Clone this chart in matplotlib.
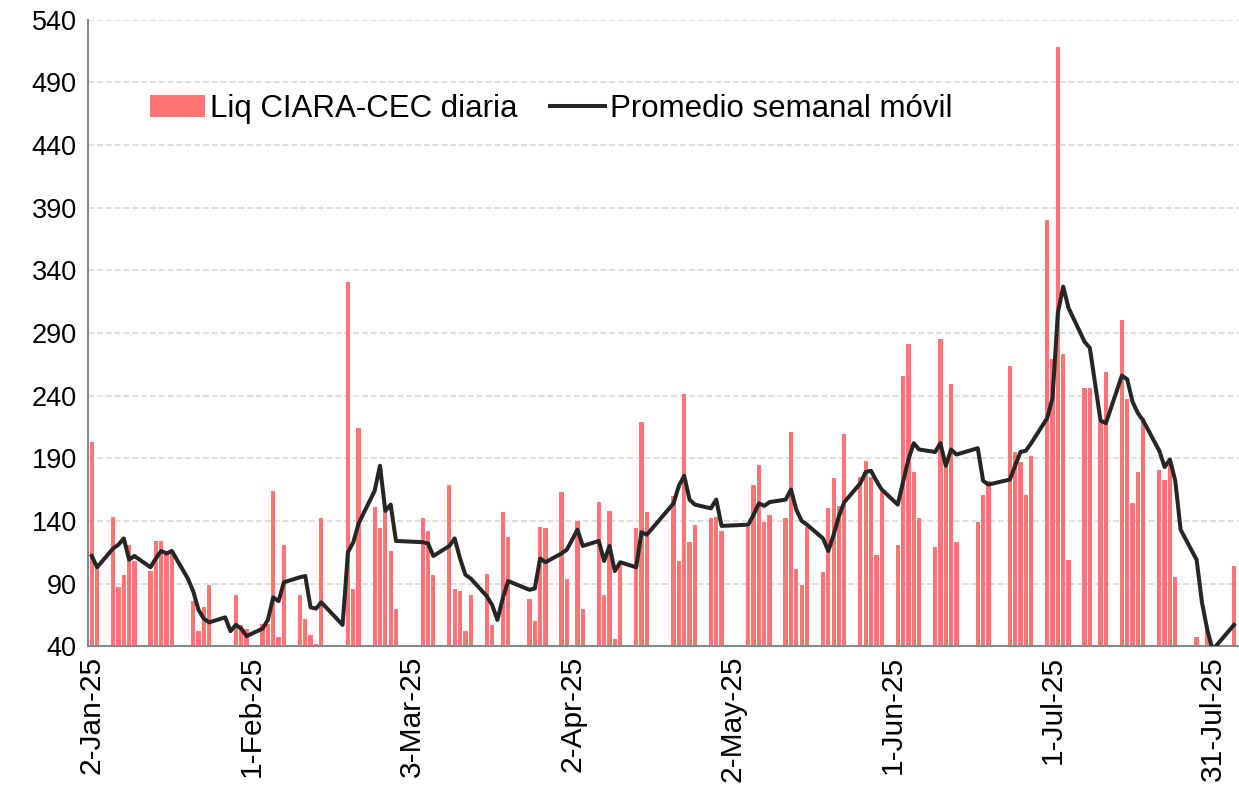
import numpy as np
import pandas as pd
import matplotlib
matplotlib.use('Agg')
import matplotlib.pyplot as plt

plt.rcParams['font.family'] = ['Liberation Sans', 'DejaVu Sans']

# Fechas con dato (días hábiles)
fechas = [
    '2025-01-02', '2025-01-03', '2025-01-06', '2025-01-07', '2025-01-08', '2025-01-09', '2025-01-10',
    '2025-01-13', '2025-01-14', '2025-01-15', '2025-01-16', '2025-01-17', '2025-01-20', '2025-01-21',
    '2025-01-22', '2025-01-23', '2025-01-24', '2025-01-27', '2025-01-28', '2025-01-29', '2025-01-30',
    '2025-01-31', '2025-02-03', '2025-02-04', '2025-02-05', '2025-02-06', '2025-02-07', '2025-02-10',
    '2025-02-11', '2025-02-12', '2025-02-13', '2025-02-14', '2025-02-18', '2025-02-19', '2025-02-20',
    '2025-02-21', '2025-02-24', '2025-02-25', '2025-02-26', '2025-02-27', '2025-02-28', '2025-03-05',
    '2025-03-06', '2025-03-07', '2025-03-10', '2025-03-11', '2025-03-12', '2025-03-13', '2025-03-14',
    '2025-03-17', '2025-03-18', '2025-03-19', '2025-03-20', '2025-03-21', '2025-03-25', '2025-03-26',
    '2025-03-27', '2025-03-28', '2025-03-31', '2025-04-01', '2025-04-03', '2025-04-04', '2025-04-07',
    '2025-04-08', '2025-04-09', '2025-04-10', '2025-04-11', '2025-04-14', '2025-04-15', '2025-04-16',
    '2025-04-21', '2025-04-22', '2025-04-23', '2025-04-24', '2025-04-25', '2025-04-28', '2025-04-29',
    '2025-04-30', '2025-05-05', '2025-05-06', '2025-05-07', '2025-05-08', '2025-05-09', '2025-05-12',
    '2025-05-13', '2025-05-14', '2025-05-15', '2025-05-16', '2025-05-19', '2025-05-20', '2025-05-21',
    '2025-05-22', '2025-05-23', '2025-05-26', '2025-05-27', '2025-05-28', '2025-05-29', '2025-05-30',
    '2025-06-02', '2025-06-03', '2025-06-04', '2025-06-05', '2025-06-06', '2025-06-09', '2025-06-10',
    '2025-06-11', '2025-06-12', '2025-06-13', '2025-06-17', '2025-06-18', '2025-06-19', '2025-06-23',
    '2025-06-24', '2025-06-25', '2025-06-26', '2025-06-27', '2025-06-30', '2025-07-01', '2025-07-02',
    '2025-07-03', '2025-07-04', '2025-07-07', '2025-07-08', '2025-07-10', '2025-07-11', '2025-07-14',
    '2025-07-15', '2025-07-16', '2025-07-17', '2025-07-18', '2025-07-21', '2025-07-22', '2025-07-23',
    '2025-07-24', '2025-07-25', '2025-07-28', '2025-07-29', '2025-07-30', '2025-07-31', '2025-08-04',
]

# Liquidación diaria (millones USD)
liq_diaria = [
    203, 105, 143, 87, 97, 121, 108,
    100, 124, 124, 114, 116, 30, 76,
    52, 71, 89, 30, 30, 81, 57,
    54, 58, 58, 164, 47, 121, 81,
    62, 49, 42, 142, 30, 331, 86,
    214, 151, 134, 148, 116, 70, 142,
    132, 97, 169, 86, 84, 52, 81,
    98, 57, 30, 147, 127, 78, 60,
    135, 134, 163, 94, 140, 70, 155,
    81, 148, 46, 105, 134, 219, 147,
    160, 108, 241, 123, 137, 142, 143,
    132, 135, 169, 185, 139, 145, 142,
    211, 102, 89, 135, 99, 150, 174,
    152, 209, 175, 188, 175, 113, 163,
    121, 256, 281, 179, 142, 119, 285,
    185, 249, 123, 139, 161, 172, 264,
    195, 187, 161, 192, 380, 269, 518,
    273, 109, 246, 246, 219, 259, 300,
    237, 154, 179, 222, 181, 173, 185,
    95, 30, 47, 30, 55, 30, 104,
]

# Promedio semanal móvil
prom_movil = [
    112, 103, 118, 121, 126, 109, 112,
    103, 110, 116, 114, 116, 94, 84,
    69, 62, 59, 63, 52, 57, 54,
    48, 54, 61, 79, 76, 91, 95,
    96, 71, 70, 75, 57, 115, 123,
    138, 164, 184, 148, 153, 124, 123,
    122, 112, 120, 126, 110, 97, 94,
    80, 73, 61, 78, 92, 85, 86,
    110, 107, 114, 117, 133, 120, 124,
    108, 120, 100, 107, 103, 131, 129,
    154, 168, 176, 157, 153, 150, 157,
    136, 137, 145, 154, 152, 155, 157,
    165, 149, 140, 137, 126, 116, 129,
    144, 155, 170, 179, 180, 172, 165,
    153, 171, 189, 202, 197, 195, 202,
    184, 197, 193, 198, 172, 169, 173,
    184, 195, 196, 202, 222, 238, 306,
    327, 310, 283, 278, 220, 218, 256,
    253, 235, 226, 220, 196, 183, 189,
    172, 133, 109, 75, 53, 37, 57,
]

fechas = pd.to_datetime(fechas)
ticks = pd.date_range('2025-01-02', periods=8, freq='30D')
tick_labels = [f"{d.day}-{d.strftime('%b-%y')}" for d in ticks]

fig = plt.figure(figsize=(12.39, 7.89), dpi=100)
ax = fig.add_axes([0.071, 0.181, 0.928, 0.794])

barras = ax.bar(fechas, liq_diaria, width=0.8, color='#FF7575', label='Liq CIARA-CEC diaria', zorder=2)
linea, = ax.plot(fechas, prom_movil, color='#262626', linewidth=2.9, label='Promedio semanal móvil', zorder=3)

ax.set_ylim(40, 540)
ax.set_yticks(np.arange(40, 541, 50))
ax.set_xlim(pd.Timestamp('2025-01-02') - pd.Timedelta(hours=17), pd.Timestamp('2025-08-04') + pd.Timedelta(hours=17))
ax.set_xticks(ticks)
ax.set_xticklabels(tick_labels, rotation=90)

ax.grid(axis='y', color='#D9D9D9', linestyle='--', linewidth=1.2, zorder=0)
ax.set_axisbelow(True)
for s in ['top', 'right']:
    ax.spines[s].set_visible(False)
for s in ['left', 'bottom']:
    ax.spines[s].set_color('#7F8C8C')
    ax.spines[s].set_linewidth(1.5)
ax.tick_params(axis='y', length=0, labelsize=19.5, pad=8)
ax.tick_params(axis='x', length=0, labelsize=21.5, pad=7)

ax.legend(handles=[barras, linea], loc='center left', bbox_to_anchor=(0.054, 0.857), ncol=2,
          frameon=False, fontsize=22.5, borderpad=0, borderaxespad=0, handlelength=1.75,
          handletextpad=0.17, columnspacing=1.05)

fig.savefig('out.png', dpi=100)
